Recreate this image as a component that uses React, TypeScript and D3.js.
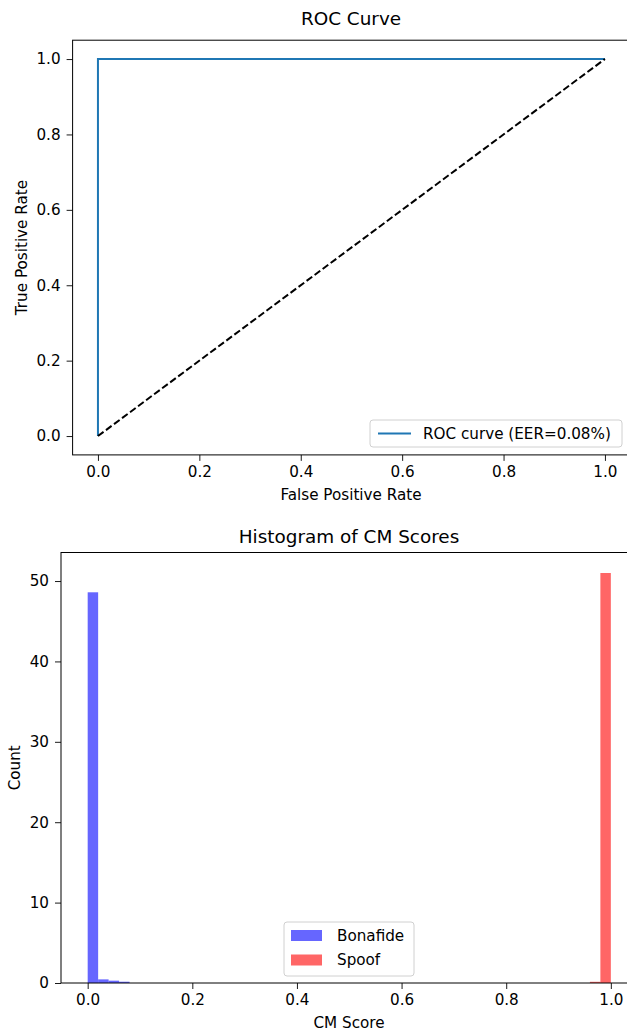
import React, { useEffect, useRef } from "react";
import * as d3 from "d3";

// ROC curve points (fpr, tpr)
const rocFpr = [0.0, 0.0, 1.0];
const rocTpr = [0.0, 1.0, 1.0];
const chanceLine = [0.0, 1.0];
const rocLabel = "ROC curve (EER=0.08%)";
const rocTicks = [0, 0.2, 0.4, 0.6, 0.8, 1.0];

// histogram bins (bin start, density), bin width 0.02
const binWidth = 0.02;
const bonafideStarts = [0.0, 0.02, 0.04, 0.06];
const bonafideDensity = [48.6, 0.45, 0.29, 0.16];
const spoofStarts = [0.96, 0.98];
const spoofDensity = [0.15, 51.0];
const histXTicks = [0, 0.2, 0.4, 0.6, 0.8, 1.0];
const histYTicks = [0, 10, 20, 30, 40, 50];

const FONT = "DejaVu Sans, sans-serif";
const FS = 15.2;
const TITLE_FS = 18.4;

const App = () => {
  const svgRef = useRef<SVGSVGElement>(null);

  useEffect(() => {
    const svg = d3.select(svgRef.current);
    svg.selectAll("*").remove();

    const styleAxis = (g: any) => {
      g.attr("font-family", FONT).attr("font-size", FS);
      g.select(".domain").remove();
      g.selectAll(".tick line").attr("stroke", "#000").attr("stroke-width", 0.9);
      g.selectAll(".tick text").attr("fill", "#000");
    };

    // ---------- ROC ----------
    const x1 = d3.scaleLinear().domain([-0.05, 1.05]).range([72.6, 630.3]);
    const y1 = d3.scaleLinear().domain([-0.05, 1.05]).range([454.9, 40.2]);
    const roc = svg.append("g");

    roc
      .append("text")
      .attr("x", 351)
      .attr("y", 24.5)
      .attr("text-anchor", "middle")
      .attr("font-family", FONT)
      .attr("font-size", TITLE_FS)
      .text("ROC Curve");

    roc
      .append("g")
      .attr("transform", `translate(0,${y1(-0.05)})`)
      .call(d3.axisBottom(x1).tickValues(rocTicks).tickFormat(d3.format(".1f")).tickSize(6).tickPadding(5))
      .call(styleAxis);
    roc
      .append("g")
      .attr("transform", `translate(${x1(-0.05)},0)`)
      .call(d3.axisLeft(y1).tickValues(rocTicks).tickFormat(d3.format(".1f")).tickSize(6).tickPadding(6))
      .call(styleAxis);

    const line = d3
      .line<number>()
      .x((_, i) => x1(rocFpr[i]))
      .y((_, i) => y1(rocTpr[i]));
    roc
      .append("path")
      .attr("d", line(rocFpr))
      .attr("fill", "none")
      .attr("stroke", "#1f77b4")
      .attr("stroke-width", 2);

    roc
      .append("line")
      .attr("x1", x1(chanceLine[0]))
      .attr("y1", y1(chanceLine[0]))
      .attr("x2", x1(chanceLine[1]))
      .attr("y2", y1(chanceLine[1]))
      .attr("stroke", "#000")
      .attr("stroke-width", 2)
      .attr("stroke-dasharray", "7,3");

    roc
      .append("rect")
      .attr("x", x1(-0.05))
      .attr("y", y1(1.05))
      .attr("width", x1(1.05) - x1(-0.05))
      .attr("height", y1(-0.05) - y1(1.05))
      .attr("fill", "none")
      .attr("stroke", "#000")
      .attr("stroke-width", 1);

    const rl = roc.append("g");
    rl.append("rect")
      .attr("x", 370)
      .attr("y", 420)
      .attr("width", 252)
      .attr("height", 27)
      .attr("rx", 3)
      .attr("fill", "rgba(255,255,255,0.8)")
      .attr("stroke", "#d0d0d0");
    rl.append("line")
      .attr("x1", 378)
      .attr("x2", 411)
      .attr("y1", 433.5)
      .attr("y2", 433.5)
      .attr("stroke", "#1f77b4")
      .attr("stroke-width", 2);
    rl.append("text")
      .attr("x", 423)
      .attr("y", 439)
      .attr("font-family", FONT)
      .attr("font-size", FS)
      .text(rocLabel);

    roc
      .append("text")
      .attr("x", 351)
      .attr("y", 500)
      .attr("text-anchor", "middle")
      .attr("font-family", FONT)
      .attr("font-size", FS)
      .text("False Positive Rate");
    roc
      .append("text")
      .attr("transform", `translate(27,${(y1(0) + y1(1)) / 2}) rotate(-90)`)
      .attr("text-anchor", "middle")
      .attr("font-family", FONT)
      .attr("font-size", FS)
      .text("True Positive Rate");

    // ---------- Histogram ----------
    const x2 = d3.scaleLinear().domain([-0.051, 1.05]).range([61, 637]);
    const y2 = d3.scaleLinear().domain([0, 53.55]).range([983, 552.5]);
    const hist = svg.append("g");

    hist
      .append("text")
      .attr("x", 349)
      .attr("y", 543)
      .attr("text-anchor", "middle")
      .attr("font-family", FONT)
      .attr("font-size", TITLE_FS)
      .text("Histogram of CM Scores");

    const drawBars = (starts: number[], dens: number[], color: string) => {
      hist
        .append("g")
        .selectAll("rect")
        .data(starts)
        .join("rect")
        .attr("x", (d) => x2(d))
        .attr("width", x2(binWidth) - x2(0))
        .attr("y", (_, i) => y2(dens[i]))
        .attr("height", (_, i) => y2(0) - y2(dens[i]))
        .attr("fill", color)
        .attr("fill-opacity", 0.6);
    };
    drawBars(bonafideStarts, bonafideDensity, "#0000ff");
    drawBars(spoofStarts, spoofDensity, "#ff0000");

    hist
      .append("g")
      .attr("transform", `translate(0,${y2(0)})`)
      .call(d3.axisBottom(x2).tickValues(histXTicks).tickFormat(d3.format(".1f")).tickSize(6).tickPadding(5))
      .call(styleAxis);
    hist
      .append("g")
      .attr("transform", `translate(${x2(-0.051)},0)`)
      .call(d3.axisLeft(y2).tickValues(histYTicks).tickFormat(d3.format("d")).tickSize(6).tickPadding(6))
      .call(styleAxis);

    hist
      .append("rect")
      .attr("x", x2(-0.051))
      .attr("y", y2(53.55))
      .attr("width", x2(1.05) - x2(-0.051))
      .attr("height", y2(0) - y2(53.55))
      .attr("fill", "none")
      .attr("stroke", "#000")
      .attr("stroke-width", 1);

    const hl = hist.append("g");
    hl.append("rect")
      .attr("x", 284)
      .attr("y", 922)
      .attr("width", 130)
      .attr("height", 54)
      .attr("rx", 3)
      .attr("fill", "rgba(255,255,255,0.8)")
      .attr("stroke", "#d0d0d0");
    const legendItems = [
      { label: "Bonafide", color: "#0000ff" },
      { label: "Spoof", color: "#ff0000" },
    ];
    legendItems.forEach((it, i) => {
      hl.append("rect")
        .attr("x", 291)
        .attr("y", 930 + i * 24.5)
        .attr("width", 31)
        .attr("height", 11)
        .attr("fill", it.color)
        .attr("fill-opacity", 0.6);
      hl.append("text")
        .attr("x", 337)
        .attr("y", 940.5 + i * 24.5)
        .attr("font-family", FONT)
        .attr("font-size", FS)
        .text(it.label);
    });

    hist
      .append("text")
      .attr("x", 349)
      .attr("y", 1027.5)
      .attr("text-anchor", "middle")
      .attr("font-family", FONT)
      .attr("font-size", FS)
      .text("CM Score");
    hist
      .append("text")
      .attr("transform", `translate(19.5,${(y2(0) + y2(53.55)) / 2}) rotate(-90)`)
      .attr("text-anchor", "middle")
      .attr("font-family", FONT)
      .attr("font-size", FS)
      .text("Count");
  }, []);

  return (
    <div style={{ position: "absolute", left: 0, top: 0, background: "#fff" }}>
      <svg ref={svgRef} width={627} height={1030} style={{ display: "block" }}></svg>
    </div>
  );
};

export default App;
